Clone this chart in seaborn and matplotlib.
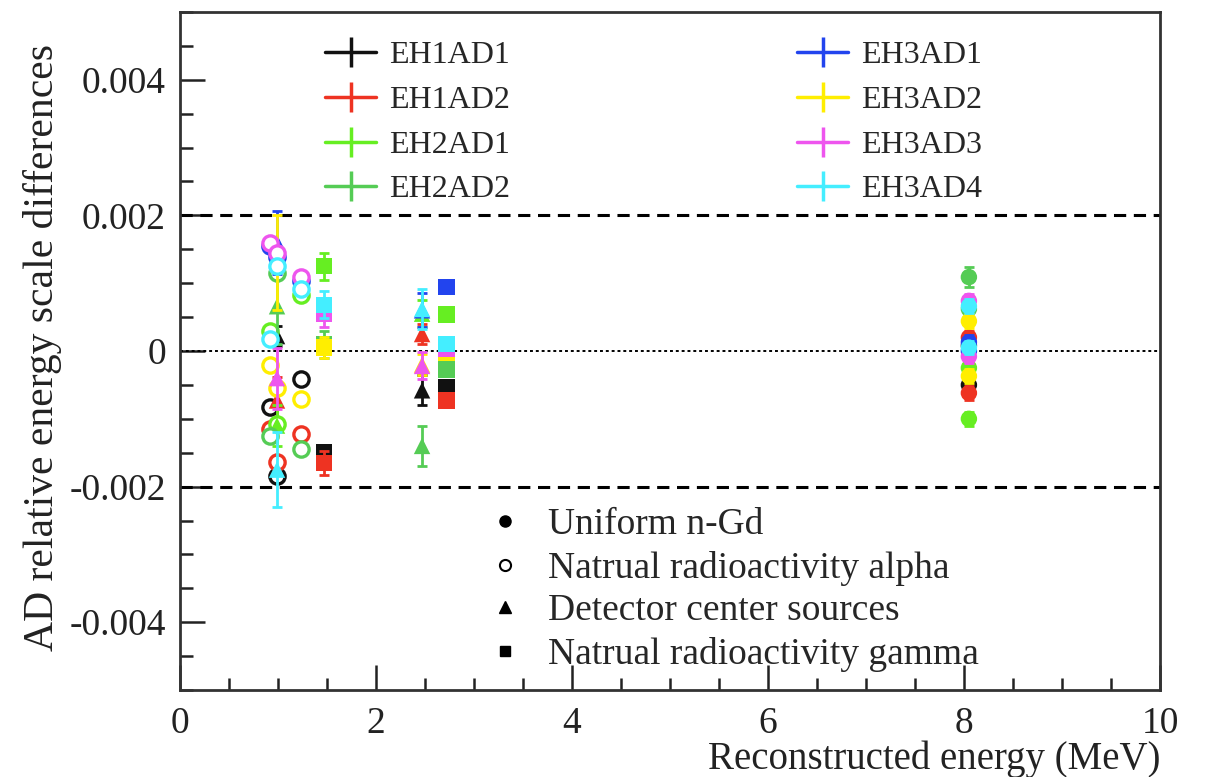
import numpy as np
import pandas as pd
import matplotlib
matplotlib.use("Agg")
import matplotlib.pyplot as plt
import seaborn as sns
from matplotlib.lines import Line2D
from matplotlib.ticker import MultipleLocator, FixedLocator, FixedFormatter

# ---------------- data (values in units of 1e-3) ----------------
ads = ["EH1AD1", "EH1AD2", "EH2AD1", "EH2AD2", "EH3AD1", "EH3AD2", "EH3AD3", "EH3AD4"]
ad_colors = ["#111111", "#ee3322", "#66ee22", "#55cc55", "#2244ee", "#ffee00", "#ee55ee", "#44eeff"]

# Natural radioactivity alpha (open circles), three peaks
alpha_energy = [0.92, 0.99, 1.23]
alpha_e092 = [-0.82, -1.15, 0.30, -1.25, 1.55, -0.20, 1.60, 0.18]
alpha_e099 = [-1.84, -1.63, -1.08, 1.15, 1.38, -0.55, 1.45, 1.25]
alpha_e123 = [-0.41, -1.22, 0.82, -1.44, 1.03, -0.71, 1.09, 0.91]
alpha_err = [0.05, 0.05, 0.05, 0.05, 0.05, 0.05, 0.05, 0.05]

# Detector center sources (triangles)
src_energy = [0.99, 2.47]
src_e099 = [0.22, -0.73, -1.10, 0.66, 1.60, 1.30, -0.40, -1.75]
src_e099_err = [0.15, 0.35, 0.30, 0.55, 0.46, 0.70, 0.45, 0.55]
src_e247 = [-0.58, 0.25, 0.55, -1.40, 0.60, -0.20, -0.22, 0.62]
src_e247_err = [0.22, 0.15, 0.20, 0.30, 0.25, 0.15, 0.20, 0.30]

# Natural radioactivity gamma (squares)
gam_energy = [1.47, 2.72]
gam_e147 = [-1.50, -1.65, 1.25, 0.10, 0.62, 0.05, 0.55, 0.68]
gam_e147_err = [0.12, 0.18, 0.20, 0.20, 0.15, 0.15, 0.20, 0.20]
gam_e272 = [-0.53, -0.73, 0.54, -0.27, 0.94, -0.02, 0.03, 0.10]
gam_e272_err = [0.04, 0.04, 0.04, 0.04, 0.04, 0.04, 0.04, 0.04]

# Uniform n-Gd (filled circles)
ngd_energy = 8.05
ngd_a = [-0.50, 0.20, -1.00, 1.09, 0.13, 0.44, 0.74, 0.66]
ngd_b = [0.08, -0.62, -0.25, 0.62, 0.00, -0.37, -0.08, 0.05]
ngd_err = [0.10, 0.10, 0.10, 0.15, 0.10, 0.10, 0.10, 0.10]

category_labels = ["Uniform n-Gd", "Natrual radioactivity alpha",
                   "Detector center sources", "Natrual radioactivity gamma"]

# ---------------- build table ----------------
rows = []
def add(energy, vals, errs, cat):
    for i, (v, e) in enumerate(zip(vals, errs)):
        rows.append(dict(energy=energy, value=v * 1e-3, err=e * 1e-3, ad=ads[i], cat=cat))

add(alpha_energy[0], alpha_e092, alpha_err, "alpha")
add(alpha_energy[1], alpha_e099, alpha_err, "alpha")
add(alpha_energy[2], alpha_e123, alpha_err, "alpha")
add(src_energy[0], src_e099, src_e099_err, "source")
add(src_energy[1], src_e247, src_e247_err, "source")
add(gam_energy[0], gam_e147, gam_e147_err, "gamma")
add(gam_energy[1], gam_e272, gam_e272_err, "gamma")
add(ngd_energy, ngd_a, ngd_err, "ngd")
add(ngd_energy, ngd_b, ngd_err, "ngd")
df = pd.DataFrame(rows)

# ---------------- figure ----------------
sns.set_style("white")
plt.rcParams['font.family'] = ['Liberation Serif', 'DejaVu Serif']

fig = plt.figure(figsize=(12.05, 7.77), dpi=100)
ax = fig.add_axes([180 / 1205, 1 - 690 / 777, 980 / 1205, 678 / 777])

palette = dict(zip(ads, ad_colors))

# reference lines
ax.axhline(0.002, color="black", lw=2.2, ls=(0, (4, 2.5)), zorder=1)
ax.axhline(-0.002, color="black", lw=2.2, ls=(0, (4, 2.5)), zorder=1)
ax.axhline(0.0, color="black", lw=1.4, ls=(0, (1.5, 1.5)), zorder=1)

# error bars + markers, drawn AD by AD
for k, ad in enumerate(ads):
    sub = df[df.ad == ad]
    c = palette[ad]
    z = 3 + k
    ax.errorbar(sub.energy, sub.value, yerr=sub.err, fmt="none", ecolor=c,
                elinewidth=2.0, capsize=3.5, capthick=2.0, zorder=z)
    op = sub[sub.cat == "alpha"]
    ax.plot(op.energy, op.value, ls="none", marker="o", ms=11, mfc="white",
            mec=c, mew=2.4, zorder=z)
    filled = sub[sub.cat != "alpha"]
    sns.scatterplot(data=filled, x="energy", y="value", style="cat",
                    markers={"source": "^", "gamma": "s", "ngd": "o"},
                    color=c, s=140, linewidth=0, ax=ax, legend=False, zorder=z)

ax.set_xlim(0, 10)
ax.set_ylim(-0.005, 0.005)

# ticks
ax.xaxis.set_major_locator(MultipleLocator(2))
ax.xaxis.set_minor_locator(MultipleLocator(0.5))
yt = [-0.004, -0.002, 0.0, 0.002, 0.004]
ax.yaxis.set_major_locator(FixedLocator(yt))
ax.yaxis.set_major_formatter(FixedFormatter(["-0.004", "-0.002", "0", "0.002", "0.004"]))
ax.yaxis.set_minor_locator(MultipleLocator(0.0005))
ax.tick_params(axis="both", which="both", bottom=True, left=True, top=False, right=False)
ax.tick_params(axis="both", which="major", direction="in", length=18, width=1.8,
               labelsize=27, color="#222222", labelcolor="#222222", pad=10)
ax.tick_params(axis="both", which="minor", direction="in", length=9, width=1.8,
               color="#222222")
ax.tick_params(axis="x", which="major", pad=12)
for sp in ax.spines.values():
    sp.set_linewidth(2.0)
    sp.set_color("#333333")
    sp.set_visible(True)

ax.set_xlabel("Reconstructed energy (MeV)", fontsize=28, color="#222222", ha="right")
ax.xaxis.set_label_coords(1.0, -0.074)
ax.set_ylabel("AD relative energy scale differences", fontsize=30, color="#222222")
ax.yaxis.set_label_coords(-0.12, 0.505)

# legend of detectors (two columns)
lg_handles = [Line2D([0], [0], color=c, lw=2.5, marker="|", ms=22, mew=2.5) for c in ad_colors]
kw = dict(loc="upper left", bbox_transform=fig.transFigure, frameon=False, fontsize=23,
          handlelength=1.6, handletextpad=0.4, labelspacing=0.48, borderpad=0, borderaxespad=0)
leg1 = ax.legend(lg_handles[:4], ads[:4], bbox_to_anchor=(325 / 1205, 1 - 41 / 777), **kw)
ax.add_artist(leg1)
leg2 = ax.legend(lg_handles[4:], ads[4:], bbox_to_anchor=(797 / 1205, 1 - 41 / 777), **kw)
ax.add_artist(leg2)

# legend of categories
cat_handles = [Line2D([0], [0], ls="none", marker="o", ms=8, color="black"),
               Line2D([0], [0], ls="none", marker="o", ms=8, mfc="white", mec="black", mew=1.5),
               Line2D([0], [0], ls="none", marker="^", ms=8, color="black"),
               Line2D([0], [0], ls="none", marker="s", ms=7, color="black")]
ax.legend(cat_handles, category_labels, loc="upper left",
          bbox_to_anchor=(490 / 1205, 1 - 508 / 777), bbox_transform=fig.transFigure,
          frameon=False, fontsize=27, handlelength=0.8, handletextpad=0.75,
          labelspacing=0.22, borderpad=0, borderaxespad=0, numpoints=1)

fig.savefig("out.png", dpi=100)
